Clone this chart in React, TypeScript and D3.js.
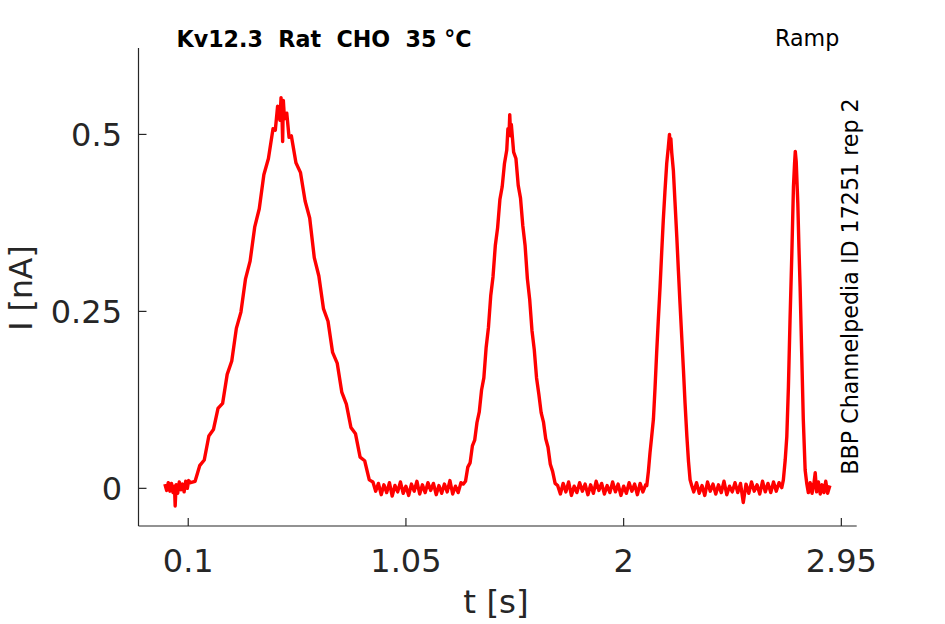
import React from 'react';
import * as d3 from 'd3';

type Pt = [number, number];

const restBeforeRamp1: Pt[] = [
  [-0.002, 0.006], [0.006, -0.003], [0.013, 0.008], [0.020, -0.004], [0.027, 0.007],
  [0.034, -0.006], [0.040, 0.003], [0.043, -0.025], [0.047, 0.005], [0.054, -0.007],
  [0.061, 0.009], [0.068, -0.002], [0.075, 0.006], [0.082, -0.005], [0.089, 0.010],
  [0.096, 0.000], [0.102, 0.011],
];
const ramp1: Pt[] = [
  [0.11, 0.008], [0.13, 0.010], [0.15, 0.032], [0.17, 0.040], [0.19, 0.074],
  [0.21, 0.083], [0.23, 0.113], [0.25, 0.120], [0.27, 0.161], [0.29, 0.180],
  [0.31, 0.226], [0.33, 0.249], [0.35, 0.296], [0.37, 0.321], [0.39, 0.369],
  [0.41, 0.395], [0.43, 0.443], [0.45, 0.466], [0.47, 0.508], [0.48, 0.506],
  [0.49, 0.540], [0.50, 0.520], [0.505, 0.552], [0.51, 0.516], [0.512, 0.490],
  [0.515, 0.548], [0.52, 0.522], [0.53, 0.530], [0.54, 0.496], [0.55, 0.498],
  [0.57, 0.460], [0.59, 0.446], [0.61, 0.406], [0.63, 0.382], [0.65, 0.326],
  [0.67, 0.300], [0.69, 0.254], [0.71, 0.236], [0.73, 0.192], [0.75, 0.177],
  [0.77, 0.136], [0.79, 0.119], [0.81, 0.086], [0.83, 0.077], [0.85, 0.044],
  [0.87, 0.039], [0.89, 0.012], [0.906, 0.009],
];
const restBeforeRamp2: Pt[] = [
  [0.918, -0.004], [0.930, 0.007], [0.942, -0.009], [0.954, 0.005], [0.966, -0.006],
  [0.978, 0.008], [0.990, -0.011], [1.002, 0.004], [1.014, -0.005], [1.026, 0.009],
  [1.038, -0.007], [1.050, 0.003], [1.062, -0.010], [1.074, 0.006], [1.086, -0.004],
  [1.098, 0.010], [1.110, -0.008], [1.122, 0.005], [1.134, -0.006], [1.146, 0.008],
  [1.158, -0.003], [1.170, 0.007], [1.182, -0.009], [1.194, 0.004], [1.206, -0.007],
  [1.218, 0.006], [1.230, -0.005], [1.242, 0.011], [1.254, -0.008], [1.266, 0.003],
  [1.278, -0.006], [1.290, 0.008],
];
const ramp2: Pt[] = [
  [1.30, 0.006], [1.31, 0.010], [1.32, 0.030], [1.33, 0.036], [1.34, 0.060],
  [1.35, 0.068], [1.36, 0.093], [1.37, 0.108], [1.38, 0.139], [1.39, 0.156],
  [1.40, 0.199], [1.41, 0.227], [1.42, 0.272], [1.43, 0.299], [1.44, 0.343],
  [1.45, 0.368], [1.46, 0.408], [1.47, 0.426], [1.48, 0.459], [1.49, 0.478],
  [1.495, 0.508], [1.50, 0.500], [1.503, 0.528], [1.507, 0.498], [1.51, 0.514],
  [1.52, 0.475], [1.53, 0.466], [1.54, 0.428], [1.55, 0.410], [1.56, 0.371],
  [1.57, 0.343], [1.58, 0.296], [1.59, 0.267], [1.60, 0.223], [1.61, 0.196],
  [1.62, 0.156], [1.63, 0.133], [1.64, 0.107], [1.65, 0.094], [1.66, 0.070],
  [1.67, 0.058], [1.68, 0.034], [1.69, 0.024], [1.701, 0.007],
];
const restBeforeRamp3: Pt[] = [
  [1.712, 0.004], [1.724, -0.008], [1.736, 0.007], [1.748, -0.005], [1.760, 0.009],
  [1.772, -0.010], [1.784, 0.003], [1.796, -0.006], [1.808, 0.008], [1.820, -0.004],
  [1.832, 0.006], [1.844, -0.009], [1.856, 0.005], [1.868, -0.007], [1.880, 0.010],
  [1.892, -0.003], [1.904, 0.007], [1.916, -0.008], [1.928, 0.004], [1.940, -0.006],
  [1.952, 0.009], [1.964, -0.005], [1.976, 0.006], [1.988, -0.010], [2.000, 0.003],
  [2.012, -0.007], [2.024, 0.008], [2.036, -0.004], [2.048, 0.006], [2.060, -0.009],
  [2.072, 0.007], [2.084, -0.005], [2.096, 0.005],
];
const ramp3: Pt[] = [
  [2.101, 0.004], [2.108, 0.024], [2.115, 0.050], [2.122, 0.072], [2.130, 0.098],
  [2.137, 0.142], [2.144, 0.191], [2.151, 0.236], [2.159, 0.285], [2.166, 0.333],
  [2.173, 0.379], [2.180, 0.418], [2.188, 0.459], [2.195, 0.482], [2.200, 0.500],
  [2.203, 0.482], [2.206, 0.494], [2.210, 0.474], [2.217, 0.449], [2.224, 0.405],
  [2.232, 0.355], [2.239, 0.307], [2.246, 0.261], [2.254, 0.211], [2.261, 0.167],
  [2.268, 0.120], [2.276, 0.073], [2.283, 0.038], [2.290, 0.012], [2.297, 0.004],
];
const restBeforeRamp4: Pt[] = [
  [2.306, -0.005], [2.318, 0.008], [2.330, -0.007], [2.342, 0.004], [2.354, -0.010],
  [2.366, 0.009], [2.378, -0.004], [2.390, 0.006], [2.402, -0.008], [2.414, 0.005],
  [2.426, -0.006], [2.438, 0.010], [2.450, -0.009], [2.462, 0.003], [2.474, -0.005],
  [2.486, 0.008], [2.498, -0.006], [2.510, 0.007], [2.522, -0.020], [2.534, 0.006],
  [2.546, -0.007], [2.558, 0.009], [2.570, -0.004], [2.582, 0.005], [2.594, -0.008],
  [2.606, 0.010], [2.618, -0.005], [2.630, 0.007], [2.642, -0.006], [2.654, 0.009],
  [2.666, -0.004], [2.678, 0.008], [2.690, 0.001],
];
const ramp4: Pt[] = [
  [2.697, 0.012], [2.705, 0.040], [2.712, 0.073], [2.719, 0.143], [2.726, 0.237],
  [2.734, 0.332], [2.741, 0.426], [2.746, 0.460], [2.749, 0.476], [2.753, 0.462],
  [2.760, 0.403], [2.765, 0.340], [2.770, 0.285], [2.777, 0.191], [2.784, 0.097],
  [2.792, 0.026], [2.799, 0.007],
];
const restAfterRamp4: Pt[] = [
  [2.806, -0.006], [2.814, 0.008], [2.822, -0.007], [2.830, 0.006], [2.836, 0.022],
  [2.842, -0.005], [2.850, 0.009], [2.858, -0.008], [2.866, 0.005], [2.874, -0.006],
  [2.882, 0.010], [2.890, -0.007], [2.900, 0.004],
];

const xTicks = [0.1, 1.05, 2, 2.95];
const xTickLabels = ['0.1', '1.05', '2', '2.95'];
const yTicks = [0, 0.25, 0.5];
const yTickLabels = ['0', '0.25', '0.5'];

const titleText = 'Kv12.3  Rat  CHO  35 °C';
const protocolText = 'Ramp';
const sourceText = 'BBP Channelpedia ID 17251 rep 2';
const xLabel = 't [s]';
const yLabel = 'I [nA]';

export default function App() {
  const W = 945;
  const H = 624;
  const left = 138.5;
  const right = 856.7;
  const top = 48;
  const bottom = 526;
  const x = d3.scaleLinear().domain([-0.117, 3.017]).range([left, right]);
  const y = d3.scaleLinear().domain([-0.0532, 0.6221]).range([bottom, top]);

  const trace: Pt[] = [
    ...restBeforeRamp1, ...ramp1, ...restBeforeRamp2, ...ramp2,
    ...restBeforeRamp3, ...ramp3, ...restBeforeRamp4, ...ramp4, ...restAfterRamp4,
  ];
  const path = d3.line<Pt>().x((d) => x(d[0])).y((d) => y(d[1]))(trace) || '';

  const font = '"DejaVu Sans", sans-serif';
  const axisColor = '#262626';
  const tickFs = 32;
  const smallFs = 22.2;

  return (
    <div style={{ position: 'absolute', left: 0, top: 0 }}>
      <svg width={W} height={H} viewBox={`0 0 ${W} ${H}`} style={{ display: 'block', background: '#fff' }}>
        <rect x={0} y={0} width={W} height={H} fill="#fff" />
        <path d={path} fill="none" stroke="#ff0000" strokeWidth={3.4} strokeLinejoin="round" />
        {/* axes */}
        <line x1={left} y1={top} x2={left} y2={bottom} stroke={axisColor} strokeWidth={1.2} />
        <line x1={left} y1={bottom} x2={right} y2={bottom} stroke={axisColor} strokeWidth={1.2} />
        {yTicks.map((t, i) => (
          <g key={`y${i}`}>
            <line x1={left} x2={left + 8} y1={y(t)} y2={y(t)} stroke={axisColor} strokeWidth={1.2} />
            <text x={122} y={y(t) + 11.5} textAnchor="end" fontFamily={font} fontSize={tickFs} fill={axisColor}>
              {yTickLabels[i]}
            </text>
          </g>
        ))}
        {xTicks.map((t, i) => (
          <g key={`x${i}`}>
            <line x1={x(t)} x2={x(t)} y1={bottom} y2={bottom - 8} stroke={axisColor} strokeWidth={1.2} />
            <text x={x(t)} y={572} textAnchor="middle" fontFamily={font} fontSize={tickFs} fill={axisColor}>
              {xTickLabels[i]}
            </text>
          </g>
        ))}
        <text x={496} y={613} textAnchor="middle" fontFamily={font} fontSize={32.5} fill={axisColor}>
          {xLabel}
        </text>
        <text
          transform="translate(32,288) rotate(-90)"
          textAnchor="middle"
          fontFamily={font}
          fontSize={31.5}
          fill={axisColor}
        >
          {yLabel}
        </text>
        <text x={176.5} y={47} fontFamily={font} fontSize={smallFs} fontWeight="bold" fill="#000" style={{ whiteSpace: 'pre' }}>
          {titleText}
        </text>
        <text x={775} y={46} fontFamily={font} fontSize={smallFs} fill="#000">
          {protocolText}
        </text>
        <text
          transform="translate(857.5,286.5) rotate(-90)"
          textAnchor="middle"
          fontFamily={font}
          fontSize={smallFs}
          fill="#000"
        >
          {sourceText}
        </text>
      </svg>
    </div>
  );
}
